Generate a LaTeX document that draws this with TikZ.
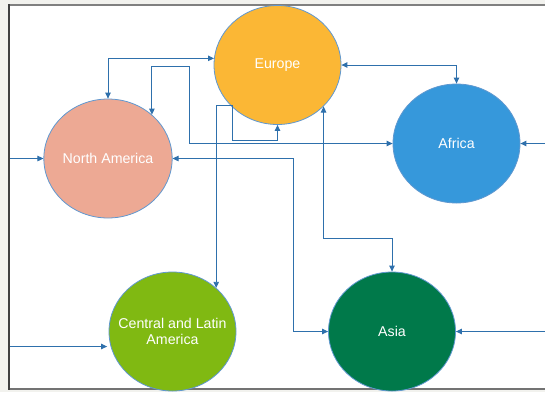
\documentclass[tikz,border=0pt]{standalone}
\usepackage{fontspec}
\setmainfont{Liberation Sans}
\usetikzlibrary{shapes.geometric,arrows.meta,calc}
\definecolor{outerbg}{RGB}{242,242,238}
\definecolor{conn}{RGB}{46,112,172}
\definecolor{rim}{RGB}{96,152,208}
\definecolor{ceu}{RGB}{251,183,53}
\definecolor{cna}{RGB}{237,169,148}
\definecolor{caf}{RGB}{54,152,219}
\definecolor{ccl}{RGB}{128,185,18}
\definecolor{cas}{RGB}{0,121,74}
\tikzset{
  region/.style={ellipse, draw=rim, line width=0.8pt, minimum width=127pt, minimum height=119pt,
    inner sep=0pt, text=white, align=center, font=\fontsize{14.2}{16.5}\selectfont},
  link/.style={draw=conn, line width=0.9pt, {Triangle[length=6pt,width=5.5pt]}-{Triangle[length=6pt,width=5.5pt]}},
  feed/.style={draw=conn, line width=0.9pt, -{Triangle[length=6pt,width=5.5pt]}}
}
\begin{document}
\begin{tikzpicture}[x=1pt,y=-1pt]
\useasboundingbox (0,0) rectangle (545,392);
\fill[outerbg] (0,0) rectangle (545,392);
\fill[white] (9,5) rectangle (560,389);
\draw[gray!90!black, line width=1.5pt] (9,389) -- (560,389);
\draw[gray, line width=1.5pt] (9,5) -- (560,5);
\draw[black!75, line width=1.5pt] (9,4.25) -- (9,389.75);

\node[region, fill=ceu] (eu) at (277.5,65) {Europe};
\node[region, fill=cna] (na) at (108,158.5) {North America};
\node[region, fill=caf] (af) at (456.5,143.5) {Africa};
\node[region, fill=ccl, inner xsep=-20pt] (cl) at (172.5,331.5) {Central and Latin\\America};
\node[region, fill=cas] (as) at (392,331.5) {Asia};

\coordinate (inNA) at (10,158.5);
\coordinate (inCL) at (10,346.5);
\coordinate (inAF) at (545,143.5);
\coordinate (inAS) at (545,331.5);

\draw[feed] (inNA) -- (na.west);
\draw[feed] (inCL) -- ([yshift=-15pt,xshift=-1.5pt]cl.west);
\draw[feed] (inAF) -- (af.east);
\draw[feed] (inAS) -- (as.east);

\draw[link] (eu.174) -| (na.north);
\draw[link] (na.45) |- (189.5,66) |- (af.west);
\draw[link] (eu.east) -| (af.north);
\draw[link] (eu.south) |- (232,140) -- (232,105) -| (cl.45);
\draw[link] (eu.-42) |- (392,238.5) -- (as.north);
\draw[link] (na.east) -| (293.5,331.5) -- (as.west);
\end{tikzpicture}
\end{document}
